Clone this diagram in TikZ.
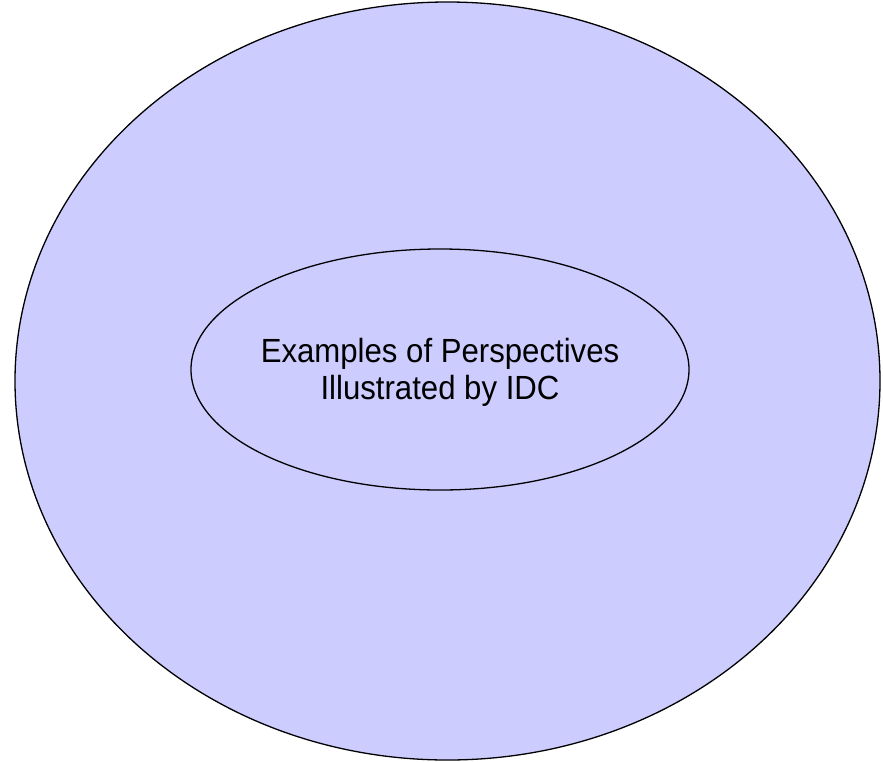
\documentclass[tikz,border=0pt]{standalone}
\usepackage{fontspec}
\setmainfont{Liberation Sans}
\newfontfamily\narrowsans[FakeStretch=0.93]{Liberation Sans}
\usetikzlibrary{shapes.geometric}
\definecolor{lav}{HTML}{CCCCFF}
\tikzset{
  blob/.style={ellipse, draw=black, line width=1.3pt, fill=lav, inner sep=0pt},
}
\begin{document}
\begin{tikzpicture}[x=1pt,y=-1pt]
\useasboundingbox (0,0) rectangle (883,761);
\node[blob, minimum width=865pt, minimum height=758pt] (outer) at (447.5,381) {};
\node[blob, minimum width=498pt, minimum height=241pt] (inner) at (440,369.5) {};
\node[align=center, font=\narrowsans\fontsize{33.5}{37}\selectfont, inner sep=0pt] (label) at (440,372) {Examples of Perspectives\\Illustrated by IDC};
\end{tikzpicture}
\end{document}
